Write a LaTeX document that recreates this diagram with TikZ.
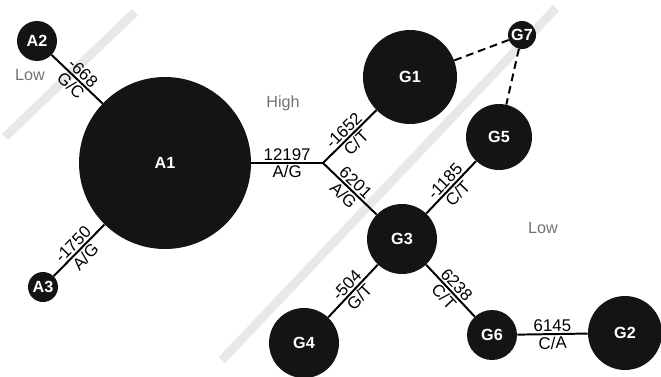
\documentclass[tikz,border=0pt]{standalone}
\usepackage{fontspec}
\setmainfont{Liberation Sans}
\begin{document}
\begin{tikzpicture}
\tikzset{hap/.style={circle, fill=black!92, text=white, font=\fontsize{11.5}{12}\selectfont\bfseries, inner sep=0pt},
	edge/.style={line width=1.4pt, draw=black},
	lab/.style={font=\fontsize{12}{13}\selectfont, inner sep=1.2pt, sloped},
	zone/.style={text=black!55, font=\fontsize{11.5}{13}\selectfont},
	wmk/.style={line width=0.22cm, draw=black!9}}
\useasboundingbox (0,0) rectangle (16.525,9.4);
% watermark bands
\draw [wmk] (0.125,5.975) -- (3.375,9.1);
\draw [wmk] (5.55,0.4) -- (13.9,9.2);

\node[hap, minimum size=4.3cm] at (4.125, 5.325) (a1) {A1};
\node[hap, minimum size=1.0cm] at (0.925, 8.375) (a2) {A2};
\node[hap, minimum size=0.75cm] at (1.075, 2.225) (a3) {A3};
\node[hap, minimum size=2.35cm] at (10.25, 7.475) (g1) {G1};
\node[hap, minimum size=1.85cm] at (15.625, 1.075) (g2) {G2};
\node[hap, minimum size=1.75cm] at (10.05, 3.425) (g3) {G3};
\node[hap, minimum size=1.75cm] at (7.6, 0.825) (g4) {G4};
\node[hap, minimum size=1.65cm] at (12.475, 5.975) (g5) {G5};
\node[hap, minimum size=1.25cm] at (12.3, 1.025) (g6) {G6};
\node[hap, minimum size=0.7cm] at (13.05, 8.525) (g7) {G7};
\coordinate (j) at (8.075, 5.325);

\node[zone] at (0.75, 7.525) (low1) {Low};
\node[zone] at (7.075, 6.825) (high) {High};
\node[zone] at (13.575, 3.7) (low2) {Low};

			\draw [edge] (a2) -- node[lab, above] {-668} node[lab, below] {G/C} (a1);
			\draw [edge] (a3) -- node[lab, above] {-1750} node[lab, below] {A/G} (a1);
			\draw [edge] (a1) -- node[lab, above] {12197} node[lab, below] {A/G} (j);
			\draw [edge] (j) -- node[lab, above] {-1652} node[lab, below] {C/T} (g1);
			\draw [edge] (j) -- node[lab, above] {6201} node[lab, below] {A/G} (g3);
			\draw [edge] (g3) -- node[lab, above] {-1185} node[lab, below] {C/T} (g5);
			\draw [edge] (g4) -- node[lab, above] {-504} node[lab, below] {G/T} (g3);
			\draw [edge] (g3) -- node[lab, above] {6238} node[lab, below] {C/T} (g6);
			\draw [edge] (g6) -- node[lab, above] {6145} node[lab, below] {C/A} (g2);

			% Dashed edges
			\draw [edge, dash pattern=on 5.5pt off 3.5pt] (g1) -- (g7);
			\draw [edge, dash pattern=on 5.5pt off 3.5pt] (g7) -- (g5);
		\end{tikzpicture}
\end{document}
